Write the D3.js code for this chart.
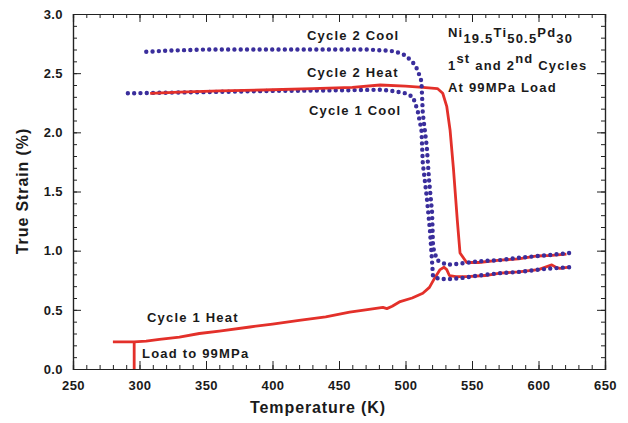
<!DOCTYPE html>
<html>
<head>
<meta charset="utf-8">
<script src="https://cdn.jsdelivr.net/npm/d3@7"></script>
<style>
  body { margin: 0; background: #fff; }
  text { font-family: "Liberation Sans", Arial, sans-serif; font-weight: bold; fill: #1a1a1a; }
</style>
</head>
<body>
<div class="chart"></div>
<script>
// temperature (K) and true strain (%)
let heat1_T = [280, 296, 305, 315, 330, 345, 360, 383, 400, 420, 440, 458, 470, 483, 486, 490, 496, 505, 513, 518, 522, 526, 529, 531, 533, 538, 546, 560, 571, 585, 600, 610, 613, 616, 623]
let heat1_S = [0.23, 0.23, 0.235, 0.25, 0.27, 0.30, 0.32, 0.355, 0.38, 0.41, 0.44, 0.48, 0.50, 0.52, 0.51, 0.53, 0.57, 0.60, 0.64, 0.69, 0.77, 0.84, 0.86, 0.84, 0.79, 0.78, 0.78, 0.79, 0.81, 0.82, 0.84, 0.88, 0.86, 0.85, 0.86]

let load_T = [296, 296]
let load_S = [0, 0.23]

let cool1_T = [623, 610, 600, 585, 571, 555, 543, 533, 526, 520.7, 520, 518.4, 516, 513, 512, 509, 505.6, 500, 490, 481, 450, 400, 350, 320, 291]
let cool1_S = [0.86, 0.85, 0.84, 0.82, 0.81, 0.79, 0.77, 0.76, 0.76, 0.78, 0.90, 1.17, 1.45, 1.74, 2.02, 2.19, 2.30, 2.33, 2.35, 2.36, 2.355, 2.35, 2.34, 2.335, 2.33]

let heat2_T = [308, 330, 360, 400, 430, 460, 481, 500, 513, 524, 528, 531, 533.5, 536, 539, 541, 546, 555, 571, 585, 599, 610, 621]
let heat2_S = [2.33, 2.34, 2.35, 2.36, 2.37, 2.38, 2.40, 2.39, 2.38, 2.37, 2.33, 2.22, 2.02, 1.70, 1.25, 0.98, 0.90, 0.90, 0.92, 0.93, 0.955, 0.96, 0.97]

let cool2_T = [623, 610, 600, 585, 571, 555, 540, 531, 523.7, 520.7, 520, 517.7, 516, 513, 512, 509, 505.6, 500, 493, 488, 470, 430, 390, 350, 320, 304]
let cool2_S = [0.98, 0.965, 0.955, 0.94, 0.92, 0.91, 0.89, 0.88, 0.92, 1.03, 1.32, 1.60, 1.88, 2.16, 2.43, 2.53, 2.59, 2.65, 2.68, 2.69, 2.70, 2.70, 2.70, 2.70, 2.69, 2.68]

let x_ticks = [250, 300, 350, 400, 450, 500, 550, 600, 650]
let y_ticks = [0.0, 0.5, 1.0, 1.5, 2.0, 2.5, 3.0]

let red = "#e3302a"
let blue = "#3a2e9c"

let margin = {top: 14, right: 23, bottom: 54, left: 73}
let width = 628 - margin.left - margin.right
let height = 423 - margin.top - margin.bottom

let svg = d3.select(".chart")
    .append("svg")
        .attr("width", 628)
        .attr("height", 423)

let g = svg.append("g")
    .attr("transform", "translate(" + margin.left + "," + margin.top + ")")

let x = d3.scaleLinear().domain([250, 650]).range([0, width])
let y = d3.scaleLinear().domain([0, 3]).range([height, 0])

let minor_x = d3.range(250, 651, 10)
let minor_y = d3.range(0, 3.01, 0.1)

function style_axis(sel){
    sel.select(".domain").attr("stroke", "#222").attr("stroke-width", 1.2)
    sel.selectAll(".tick line").attr("stroke", "#222").attr("stroke-width", 1)
    sel.selectAll("text").attr("font-size", 13).attr("letter-spacing", 0.4).attr("fill", "#1a1a1a")
}

// minor ticks, all four sides
g.append("g").attr("transform", "translate(0," + height + ")")
    .call(d3.axisBottom(x).tickValues(minor_x).tickSize(-4).tickFormat(""))
    .call(style_axis)
g.append("g")
    .call(d3.axisTop(x).tickValues(minor_x).tickSize(-4).tickFormat(""))
    .call(style_axis)
g.append("g")
    .call(d3.axisLeft(y).tickValues(minor_y).tickSize(-4).tickFormat(""))
    .call(style_axis)
g.append("g").attr("transform", "translate(" + width + ",0)")
    .call(d3.axisRight(y).tickValues(minor_y).tickSize(-4).tickFormat(""))
    .call(style_axis)

// major ticks
g.append("g").attr("transform", "translate(0," + height + ")")
    .call(d3.axisBottom(x).tickValues(x_ticks).tickSize(-8).tickPadding(12).tickFormat(d3.format("d")))
    .call(style_axis)
g.append("g")
    .call(d3.axisTop(x).tickValues(x_ticks).tickSize(-8).tickFormat(""))
    .call(style_axis)
g.append("g")
    .call(d3.axisLeft(y).tickValues(y_ticks).tickSize(-8).tickPadding(10).tickFormat(d3.format(".1f")))
    .call(style_axis)
g.append("g").attr("transform", "translate(" + width + ",0)")
    .call(d3.axisRight(y).tickValues(y_ticks).tickSize(-8).tickFormat(""))
    .call(style_axis)

// axis titles
svg.append("text")
    .attr("x", 318).attr("y", 413)
    .attr("text-anchor", "middle")
    .attr("font-size", 16)
    .attr("letter-spacing", 0.9)
    .text("Temperature (K)")

svg.append("text")
    .attr("transform", "translate(28,191) rotate(-90)")
    .attr("text-anchor", "middle")
    .attr("font-size", 16)
    .attr("letter-spacing", 0.9)
    .text("True Strain (%)")

let line = d3.line()
    .x(d => x(d[0]))
    .y(d => y(d[1]))

function zip(ts, ss){
    return ts.map((t, i) => [t, ss[i]])
}

function solid(ts, ss){
    g.append("path")
        .datum(zip(ts, ss))
        .attr("fill", "none")
        .attr("stroke", red)
        .attr("stroke-width", 2.8)
        .attr("stroke-linejoin", "round")
        .attr("d", line)
}

function dotted(ts, ss){
    g.append("path")
        .datum(zip(ts, ss))
        .attr("fill", "none")
        .attr("stroke", blue)
        .attr("stroke-width", 4.4)
        .attr("stroke-linecap", "round")
        .attr("stroke-dasharray", "0 6.3")
        .attr("d", line)
}

solid(load_T, load_S)
solid(heat1_T, heat1_S)
dotted(cool1_T, cool1_S)
solid(heat2_T, heat2_S)
dotted(cool2_T, cool2_S)

// curve labels
let labels = [
    {t: "Cycle 2 Cool", x: 307, y: 40},
    {t: "Cycle 2 Heat", x: 307, y: 77},
    {t: "Cycle 1 Cool", x: 309, y: 115},
    {t: "Cycle 1 Heat", x: 147, y: 322},
    {t: "Load to 99MPa", x: 142, y: 358},
    {t: "At 99MPa Load", x: 448, y: 92}
]
for(let l of labels){
    svg.append("text")
        .attr("x", l.x).attr("y", l.y)
        .attr("font-size", 13)
        .attr("letter-spacing", 1.2)
        .text(l.t)
}

// alloy name with subscripts
let alloy = svg.append("text")
    .attr("x", 448).attr("y", 37)
    .attr("font-size", 13)
    .attr("letter-spacing", 1.2)
alloy.append("tspan").text("Ni")
alloy.append("tspan").attr("dy", 6).text("19.5")
alloy.append("tspan").attr("dy", -6).text("Ti")
alloy.append("tspan").attr("dy", 6).text("50.5")
alloy.append("tspan").attr("dy", -6).text("Pd")
alloy.append("tspan").attr("dy", 6).text("30")

let cycles = svg.append("text")
    .attr("x", 448).attr("y", 70)
    .attr("font-size", 13)
    .attr("letter-spacing", 1.2)
cycles.append("tspan").text("1")
cycles.append("tspan").attr("dy", -7).text("st")
cycles.append("tspan").attr("dy", 7).text(" and 2")
cycles.append("tspan").attr("dy", -7).text("nd")
cycles.append("tspan").attr("dy", 7).text(" Cycles")
</script>
</body>
</html>
